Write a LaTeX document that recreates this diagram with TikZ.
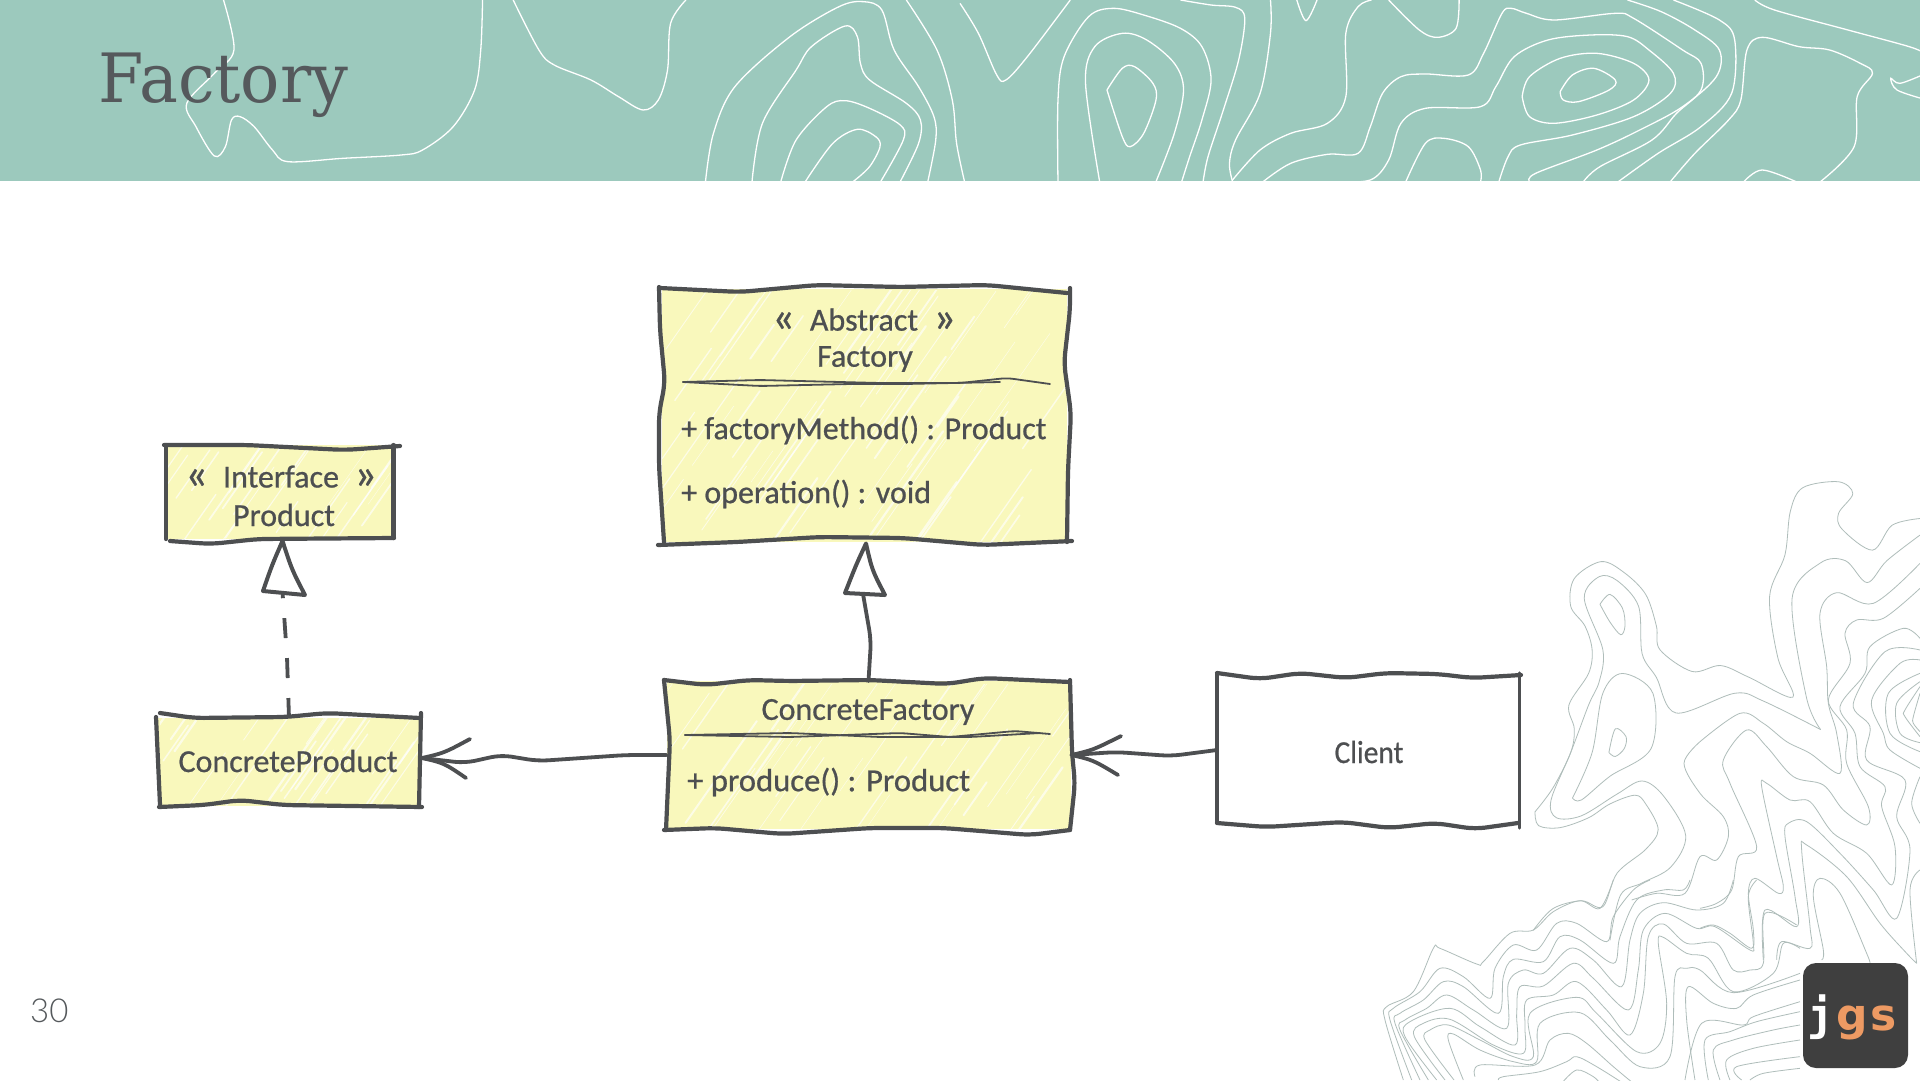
\documentclass[tikz,border=0pt]{standalone}
\usepackage{fontspec}
\usetikzlibrary{calc}
\setmainfont{Liberation Sans}
\newfontfamily\handfont[FakeBold=0.7]{Carlito}
\newfontfamily\titlefont{DejaVu Serif}
\newfontfamily\logofont{DejaVu Sans Mono Bold}
\newfontfamily\logogs{DejaVu Sans Bold}
\newfontfamily\pagefont{Lato Light}
\definecolor{teal}{HTML}{9CC9BD}
\definecolor{ink}{HTML}{4D4F51}
\definecolor{titleink}{HTML}{55595C}
\definecolor{note}{HTML}{F9F8BC}
\definecolor{contourgray}{HTML}{AFBDBA}
\definecolor{logobg}{HTML}{3F3F3F}
\definecolor{logoorange}{HTML}{ED9A63}
\tikzset{
  sketch/.style={draw=ink,line width=4.2pt,rounded corners=10pt,line cap=round},
  hairline/.style={draw=ink,line width=1.8pt,rounded corners=6pt,line cap=round},
  conn/.style={draw=ink,line width=3.8pt,rounded corners=10pt,line cap=round},
  wing/.style={draw=ink,line width=3.8pt,line cap=round},
  notebox/.style={fill=note,draw=none,inner sep=0pt,outer sep=0pt},
  plainbox/.style={fill=white,draw=none,inner sep=0pt,outer sep=0pt},
  hand/.style={font=\handfont\fontsize{32}{36}\selectfont,text=ink,inner sep=0pt,anchor=center},
  wline/.style={draw=white,line width=1.3pt},
  gline/.style={draw=contourgray,line width=0.8pt},
}
\newcommand\guil[1]{{\fontsize{44}{36}\selectfont\raisebox{-1pt}{#1}}}
\newcommand\wcont[1]{\draw[wline] plot[smooth,tension=.55] coordinates {#1};}
\newcommand\gcont[1]{\draw[gline] plot[smooth,tension=.55] coordinates {#1};}
\newcommand\hatchbox[5]{%
  \begin{scope}
    \clip (#1,#2) rectangle (#3,#4);
    \foreach \i in {1,...,#5} {
      \pgfmathsetmacro\hx{#1+rnd*(#3-#1)}
      \pgfmathsetmacro\hy{#2+rnd*(#4-#2)}
      \pgfmathsetmacro\hl{15+rnd*45}
      \pgfmathsetmacro\hw{.4+rnd*1.8}
      \draw[white,opacity=.65,line width=\hw pt,line cap=round] ({\hx-\hl*.7},{\hy+\hl}) -- ({\hx+\hl*.7},{\hy-\hl});
    }
  \end{scope}}
\begin{document}
\begin{tikzpicture}[x=1pt,y=-1pt]
\useasboundingbox (0,0) rectangle (1920,1080);
\pgfmathsetseed{11}
\fill[white] (0,0) rectangle (1920,1080);
% header band
\fill[teal] (0,0) rectangle (1920,181);
\begin{scope}
\clip (0,0) rectangle (1920,181);
\begin{scope}[x=0.6124pt,y=-0.3333pt]
\wcont{(365,0)(382,150)(350,220)(305,310)(320,380)(350,468)(368,440)(378,360)(392,350)(415,380)(445,450)(470,485)(560,475)(655,465)(690,450)(740,380)(775,270)(785,150)(788,0)}
\wcont{(838,0)(880,150)(905,195)(965,240)(1010,290)(1050,330)(1075,300)(1090,210)(1095,70)(1120,0)}
\wcont{(1152,545)(1165,400)(1200,260)(1290,110)(1370,20)(1410,5)(1440,30)(1460,150)(1500,260)(1525,350)(1528,420)(1515,545)}
\wcont{(1228,545)(1245,370)(1300,210)(1325,140)(1380,78)(1400,110)(1405,190)(1420,240)(1480,310)(1503,360)(1500,430)(1470,545)}
\wcont{(1275,545)(1300,420)(1350,320)(1380,302)(1420,325)(1470,375)(1475,420)(1438,545)}
\wcont{(1315,545)(1360,430)(1400,388)(1430,410)(1437,440)(1420,500)(1393,545)}
\wcont{(1480,0)(1530,150)(1555,300)(1562,430)(1575,545)}
\end{scope}
\begin{scope}[shift={(960pt,0pt)},x=0.6124pt,y=-0.3333pt]
\wcont{(0,10)(30,100)(60,225)(75,240)(110,170)(180,0)}
\wcont{(160,545)(160,300)(170,170)(210,50)(250,25)(300,45)(360,85)(395,140)(410,240)(395,360)(375,470)(362,545)}
\wcont{(228,545)(205,250)(220,140)(265,100)(305,120)(350,190)(365,270)(350,400)(320,545)}
\wcont{(240,270)(265,205)(285,200)(315,250)(320,300)(300,400)(278,440)(265,410)(240,270)}
\wcont{(360,0)(410,15)(450,22)(465,55)(455,180)(430,330)(405,470)(397,545)}
\wcont{(507,0)(507,100)(490,280)(450,420)(440,490)(445,545)}
\wcont{(550,0)(565,62)(583,0)}
\wcont{(445,540)(490,450)(540,400)(600,370)(630,290)(630,100)(650,20)(672,0)}
\wcont{(700,0)(750,90)(780,112)(810,85)(815,0)}
\wcont{(495,545)(540,490)(600,463)(650,460)(670,380)(690,280)(720,230)(760,222)(830,225)(855,160)(885,40)(900,25)(925,40)(970,60)(1070,40)(1100,55)(1180,150)(1210,190)(1210,270)(1170,340)(1130,420)(1045,500)(1018,545)}
\wcont{(610,545)(670,540)(700,480)(720,370)(760,325)(850,320)(875,260)(905,170)(960,120)(1030,105)(1090,110)(1125,150)(1165,220)(1160,280)(1100,350)(1000,405)(915,435)(895,470)(880,545)}
\wcont{(918,290)(930,230)(980,175)(1040,160)(1100,190)(1125,240)(1100,300)(1040,345)(970,370)(930,350)(918,290)}
\wcont{(980,275)(1000,225)(1035,205)(1070,240)(1060,270)(1010,305)(985,300)(980,275)}
\wcont{(728,545)(760,430)(790,415)(830,440)(850,510)(850,545)}
\wcont{(930,545)(940,520)(1040,450)(1110,390)(1180,320)(1235,230)(1240,150)(1200,90)(1145,35)(1090,0)}
\wcont{(1075,545)(1140,460)(1210,380)(1260,280)(1265,120)(1240,60)(1165,0)}
\wcont{(1160,545)(1200,460)(1255,360)(1275,300)(1285,150)(1310,112)(1370,140)(1420,150)(1470,190)(1490,220)(1465,290)(1460,440)(1405,545)}
\wcont{(1298,0)(1330,30)(1450,90)(1550,140)(1575,160)}
\wcont{(1280,545)(1310,510)(1365,545)}
\wcont{(1575,298)(1530,270)(1520,235)(1535,250)(1575,222)}
\end{scope}
\end{scope}
% contours, lower right
\begin{scope}
\clip (0,181) rectangle (1920,1080);
\begin{scope}[shift={(1360pt,-460pt)},x=0.3571pt,y=-0.3953pt]
\gcont{(490,890)(540,830)(590,740)(600,680)(585,620)(640,540)(650,480)(630,420)(590,370)(600,300)(675,257)(740,285)(800,340)(830,420)(840,480)(930,535)(1010,520)(1090,550)(1212,600)(1170,500)(1147,345)(1190,240)(1205,130)(1240,70)(1340,55)(1380,85)(1340,135)(1350,175)(1435,228)(1490,165)(1568,148)}
\gcont{(490,890)(500,925)(560,930)(640,905)(700,870)(770,848)(800,870)(835,935)(800,985)(720,1045)(680,1130)(620,1115)(540,1135)(485,1190)}
\gcont{(1290,682)(1130,610)(1050,590)(885,640)(830,550)(790,490)(780,370)(720,305)(670,295)(628,350)(680,480)(670,560)(640,620)(590,740)(535,860)(550,905)(620,900)(720,845)(790,812)(850,850)(912,950)(870,1030)(790,1070)(730,1100)(700,1215)}
\gcont{(1290,682)(1250,600)(1210,350)(1290,260)(1360,255)(1420,310)(1475,255)(1568,190)}
\gcont{(672,365)(700,340)(735,375)(742,420)(730,442)(700,410)(672,365)}
\gcont{(595,855)(650,740)(680,590)(735,540)(820,590)(815,730)(700,800)(620,860)(595,855)}
\gcont{(697,740)(715,680)(745,700)(740,730)(715,750)(697,740)}
\end{scope}
% z7 region
\begin{scope}[shift={(1380pt,-880pt)},x=0.3333pt,y=-0.3333pt]
\gcont{(70,600)(15,420)(20,380)(100,335)(160,205)(180,205)(290,252)(310,245)(390,160)(460,150)(520,95)(600,62)(660,85)(700,0)}
\gcont{(95,600)(30,420)(40,385)(120,335)(180,265)(250,290)(330,355)(345,265)(400,195)(470,210)(530,130)(590,130)(680,185)(700,110)(760,30)(810,0)}
\gcont{(120,600)(45,430)(60,400)(130,360)(190,305)(250,320)(355,400)(370,290)(400,238)(490,245)(540,170)(600,180)(700,250)(720,170)(770,60)(850,30)(910,30)(930,0)}
\gcont{(145,600)(60,450)(75,420)(140,385)(200,345)(280,390)(380,445)(385,310)(430,270)(490,280)(570,205)(640,240)(725,320)(750,180)(780,100)(850,68)(950,90)(1030,70)(1060,0)}
\gcont{(170,600)(75,470)(90,425)(210,385)(300,440)(405,495)(410,400)(420,320)(490,318)(580,250)(640,295)(745,390)(775,270)(790,150)(855,100)(950,145)(1005,140)(1110,210)(1120,190)(1105,50)(1130,0)}
\gcont{(195,600)(103,470)(130,430)(210,418)(340,495)(430,520)(435,440)(440,360)(520,345)(590,305)(680,390)(750,465)(790,340)(805,170)(850,132)(920,190)(1010,190)(1060,270)(1110,270)(1150,250)(1155,100)(1250,135)}
\gcont{(222,600)(135,480)(150,450)(205,435)(300,480)(400,530)(460,530)(450,400)(590,352)(650,400)(770,515)(840,490)(860,370)(835,190)(850,172)(920,220)(985,235)(1060,335)(1180,280)(1210,190)(1260,205)}
\gcont{(250,600)(205,480)(220,462)(300,510)(400,545)(470,545)(480,430)(600,398)(690,480)(780,560)(870,530)(885,290)(920,265)(960,270)(1060,338)(1260,280)}
\gcont{(945,600)(920,420)(925,320)(1000,370)(1070,385)(1120,345)(1260,300)}
\gcont{(915,600)(965,430)(1090,435)(1120,410)(1260,365)}
\gcont{(985,600)(975,480)(1050,455)(1130,425)(1260,395)}
\gcont{(1020,600)(1000,510)(1060,480)(1180,450)(1260,435)}
\gcont{(1050,600)(1040,540)(1120,505)(1260,480)}
\gcont{(1085,600)(1070,560)(1260,530)}
\gcont{(1110,600)(1150,580)(1260,565)}
\gcont{(285,590)(300,555)(465,555)(510,480)(565,460)(620,490)(700,560)(760,610)}
\gcont{(355,600)(370,590)(480,575)(560,545)(590,530)(650,560)(730,610)}
\gcont{(545,610)(590,570)(640,590)(660,610)}
\end{scope}
% z8 region
\begin{scope}[shift={(1700pt,-560pt)},x=0.3333pt,y=-0.3333pt]
\gcont{(0,545)(120,460)(190,490)(260,545)(330,580)(420,640)(410,520)(385,430)(380,320)(360,160)(410,98)(520,130)(660,10)}
\gcont{(0,545)(-48,610)(0,700)(70,770)(85,830)(50,900)(0,890)(-45,1000)(-130,1000)(-205,1020)}
\gcont{(0,1045)(50,1030)(95,990)(115,890)(170,860)(90,670)(70,600)(140,510)(200,560)(280,650)(370,675)(430,750)(500,795)(505,740)(440,610)(440,510)(385,420)(450,310)(435,220)(470,180)(550,175)(660,85)}
\gcont{(0,1105)(40,1095)(90,1120)(155,1165)(160,1110)(145,1000)(165,955)(235,1000)(250,980)(230,890)(185,680)(200,670)(270,720)(330,725)(400,820)(500,880)(575,975)(585,860)(545,740)(555,680)(480,620)(465,520)(420,440)(495,340)(510,260)(610,205)(660,235)}
\gcont{(190,1200)(195,1050)(290,1100)(285,1010)(255,830)(265,790)(320,785)(420,880)(520,990)(590,1075)(630,870)(590,770)(615,660)(500,600)(510,500)(460,430)(555,275)(660,270)}
\gcont{(230,1200)(245,1145)(330,1165)(330,1100)(305,870)(320,855)(440,950)(540,1090)(620,1180)(650,1210)}
\gcont{(365,1200)(370,1170)(340,1010)(360,955)(420,1000)(500,1180)(510,1210)}
\gcont{(660,300)(600,310)(515,420)(550,520)(570,570)(660,625)}
\gcont{(660,340)(565,400)(570,520)(660,575)}
\gcont{(660,365)(590,430)(600,520)(660,548)}
\gcont{(660,380)(615,450)(615,470)(660,530)}
\gcont{(660,400)(640,470)(640,490)(660,515)}
\gcont{(660,650)(635,730)(660,790)}
\gcont{(660,930)(630,990)(650,1210)}
\end{scope}
\end{scope}
% title and page number
\node[anchor=base west,inner sep=0pt,text=titleink,font=\titlefont\fontsize{68}{72}\selectfont] (title) at (98,102) {\scalebox{.96}[1]{Factory}};
\node[anchor=base west,inner sep=0pt,text=titleink,font=\pagefont\fontsize{33}{36}\selectfont] (page) at (30,1022) {30};
% logo
\node[fill=logobg,rounded corners=13pt,minimum width=105pt,minimum height=105pt,inner sep=0pt] (logo) at (1855.5,1015.5) {};
\node[anchor=base west,inner sep=0pt,text=white,font=\logofont\fontsize{44}{50}\selectfont] (logotext) at (1807,1030) {j\hspace{3pt}\textcolor{logoorange}{\logogs g\hspace{2pt}s}};
% boxes
\node[notebox,minimum width=405pt,minimum height=253pt] (af) at (864,415) {};
\node[notebox,minimum width=228pt,minimum height=94pt] (ip) at (279.5,492) {};
\node[notebox,minimum width=262pt,minimum height=88pt] (cp) at (289,762) {};
\node[notebox,minimum width=404pt,minimum height=148pt] (cf) at (868.5,755) {};
\node[plainbox,minimum width=302pt,minimum height=150pt] (client) at (1368,750) {};
\hatchbox{662}{290}{1068}{541}{60}
\hatchbox{167}{447}{392}{538}{22}
\hatchbox{160}{718}{418}{805}{24}
\hatchbox{668}{684}{1070}{829}{36}
% outlines: Abstract Factory
\draw[sketch] (659,287) -- (660,330) -- (665,383) -- (659,413) -- (659,467) -- (664,542);
\draw[sketch] (660,288) -- (740,292) -- (817,285) -- (900,287) -- (987,285) -- (1067,293);
\draw[sketch] (1070,288) -- (1070,310) -- (1064,363) -- (1071,413) -- (1068,470) -- (1067,542);
\draw[sketch] (658,545) -- (737,542) -- (820,537) -- (903,538) -- (983,545) -- (1072,541);
\draw[hairline] (683,382) -- (760,380) -- (880,383) -- (960,383) -- (1007,378) -- (1050,384);
\draw[hairline] (683,382) -- (760,386) -- (850,384) -- (905,384) -- (1000,382);
% outlines: Interface Product
\draw[sketch] (164,445) -- (247,445) -- (345,450) -- (400,446);
\draw[sketch] (166,445) -- (166,539);
\draw[sketch] (393.5,445) -- (393.5,538);
\draw[sketch] (170,541) -- (211,544) -- (258,539) -- (394,538);
% outlines: ConcreteProduct
\draw[sketch] (160,713) -- (194,718) -- (286,717) -- (327,713) -- (420,718);
\draw[sketch] (156,717) -- (160,805);
\draw[sketch] (421,713) -- (419,807);
\draw[sketch] (159,807) -- (204,805) -- (240,800) -- (283,805) -- (422,807);
% outlines: ConcreteFactory
\draw[sketch] (664,680) -- (706,685) -- (749,680) -- (789,681) -- (870,680) -- (947,684) -- (984,678) -- (1070,682);
\draw[sketch] (664,680) -- (670,740) -- (666,830);
\draw[sketch] (1070,680) -- (1072,753) -- (1075,783) -- (1070,830);
\draw[sketch] (664,830) -- (715,828) -- (783,834) -- (870,828) -- (944,828) -- (1030,835) -- (1070,830);
\draw[hairline] (685,735) -- (790,737) -- (900,733) -- (950,737) -- (1015,731) -- (1050,734);
\draw[hairline] (685,735) -- (790,733) -- (880,737) -- (970,737) -- (1040,733);
% outlines: Client
\draw[sketch] (1217,673) -- (1260,679) -- (1300,673) -- (1346,678) -- (1386,673) -- (1438,674) -- (1472,678) -- (1521,675);
\draw[sketch,line width=3.2pt] (1217,673) -- (1217,823);
\draw[sketch,line width=3.4pt] (1519.5,673) -- (1519.5,828);
\draw[sketch] (1217,823) -- (1266,827) -- (1343,822) -- (1389,828) -- (1435,823) -- (1475,829) -- (1518,823);
% text
\node[hand] (t1) at (864,320) {\guil{«}\hspace{8pt} Abstract \hspace{8pt}\guil{»}};
\node[hand] (t2) at (865,359) {Factory};
\node[hand,anchor=west] (t3) at (681,430) {+ factoryMethod() : Product};
\node[hand,anchor=west] (t4) at (681,494) {+ operation() : void};
\node[hand] (t5) at (281,477) {\guil{«}\hspace{8pt} Interface \hspace{8pt}\guil{»}};
\node[hand] (t6) at (284,515) {Product};
\node[hand] (t7) at (288,761) {ConcreteProduct};
\node[hand] (t8) at (868,712) {ConcreteFactory};
\node[hand,anchor=west] (t9) at (687,782) {\scalebox{1.02}[1]{+ produce() : Product}};
\node[hand] (t10) at (1369,752) {\scalebox{.92}[1]{Client}};
% connectors
\coordinate (iptip) at ([xshift=3pt,yshift=-2pt]ip.south);
\coordinate (iptail) at ([xshift=3pt,yshift=-53pt]ip.south);
\coordinate (aftip) at ([xshift=2pt,yshift=-2pt]af.south);
\coordinate (cptip) at ([xshift=2pt,yshift=4pt]cp.east);
\coordinate (cftip) at ([xshift=1pt]cf.east);
\draw[draw=ink,line width=3.8pt,dash pattern=on 20pt off 20pt] (cp.north) -- (287,657) -- (iptail);
\draw[draw=ink,line width=4pt,line join=round,fill=white] (iptip) .. controls (272,565) .. (263,591) -- (305,595) .. controls (292,570) .. (iptip) -- cycle;
\draw[conn] (cf.north) -- (871,640) -- (863,594);
\draw[draw=ink,line width=4pt,line join=round,fill=white] (aftip) .. controls (856,565) .. (845,593) -- (885,595) .. controls (872,570) .. (aftip) -- cycle;
\draw[conn] (cf.west) -- (626,755) -- (538,761) -- (501,755) -- (465,763) -- (cptip);
\draw[wing] (cptip) .. controls (444,753) .. (470,739);
\draw[wing] (cptip) .. controls (444,763) .. (466,778);
\draw[conn] (client.west) -- (1171,756) -- (1116,752) -- (cftip);
\draw[wing] (cftip) .. controls (1093,750) .. (1121,736);
\draw[wing] (cftip) .. controls (1093,760) .. (1118,775);
\end{tikzpicture}
\end{document}
